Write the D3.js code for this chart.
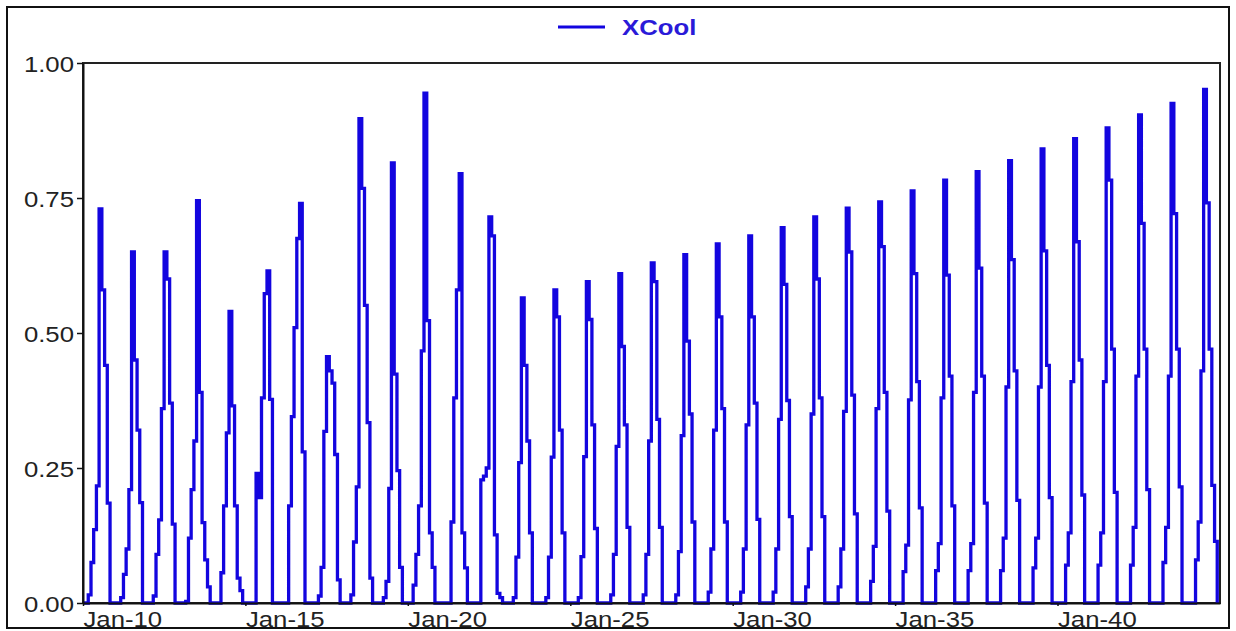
<!DOCTYPE html>
<html>
<head>
<meta charset="utf-8">
<script src="https://cdn.jsdelivr.net/npm/d3@7"></script>
<style>
  body { margin: 0; background: #fff; }
  svg text { font-family: "Liberation Sans", Arial, sans-serif; }
</style>
</head>
<body>
<div id="chart"></div>
<script>
(function () {

    var seriesName = "XCool";
    var startYear = 2010;
    // monthly values, one row per year (Jan..Dec)
    var xcool = [
        0, 0, 0.015, 0.075, 0.136, 0.217, 0.73, 0.58, 0.44, 0.185, 0, 0,        // 2010
        0, 0, 0.01, 0.053, 0.10, 0.21, 0.65, 0.45, 0.32, 0.186, 0, 0,           // 2011
        0, 0, 0.013, 0.09, 0.154, 0.36, 0.65, 0.60, 0.37, 0.146, 0, 0,          // 2012
        0, 0, 0.003, 0.12, 0.21, 0.30, 0.745, 0.39, 0.149, 0.08, 0.03, 0,       // 2013
        0, 0, 0, 0.056, 0.18, 0.315, 0.54, 0.365, 0.18, 0.046, 0.023, 0,        // 2014
        0, 0, 0, 0, 0.24, 0.195, 0.38, 0.573, 0.615, 0.377, 0, 0,               // 2015
        0, 0, 0, 0, 0.18, 0.345, 0.51, 0.675, 0.74, 0.28, 0, 0,                 // 2016
        0, 0, 0, 0.013, 0.066, 0.318, 0.456, 0.43, 0.407, 0.275, 0.043, 0,      // 2017
        0, 0, 0, 0.015, 0.113, 0.215, 0.897, 0.768, 0.551, 0.334, 0.046, 0,     // 2018
        0, 0, 0, 0.01, 0.04, 0.212, 0.815, 0.424, 0.245, 0.066, 0, 0,           // 2019
        0, 0, 0.033, 0.09, 0.18, 0.467, 0.944, 0.523, 0.13, 0.066, 0, 0,        // 2020
        0, 0, 0, 0, 0.15, 0.38, 0.58, 0.795, 0.13, 0.065, 0, 0,                 // 2021
        0, 0, 0, 0.228, 0.235, 0.25, 0.715, 0.68, 0.126, 0.018, 0.01, 0,        // 2022
        0, 0, 0, 0.01, 0.085, 0.26, 0.565, 0.44, 0.30, 0.13, 0, 0,              // 2023
        0, 0, 0, 0.01, 0.085, 0.27, 0.58, 0.53, 0.32, 0.13, 0, 0,               // 2024
        0, 0, 0, 0.01, 0.086, 0.271, 0.595, 0.525, 0.33, 0.138, 0, 0,           // 2025
        0, 0, 0, 0.015, 0.09, 0.29, 0.61, 0.475, 0.33, 0.14, 0, 0,              // 2026
        0, 0, 0, 0.015, 0.09, 0.30, 0.63, 0.595, 0.34, 0.14, 0, 0,              // 2027
        0, 0, 0, 0.015, 0.095, 0.31, 0.645, 0.485, 0.35, 0.15, 0, 0,            // 2028
        0, 0, 0, 0.02, 0.10, 0.32, 0.665, 0.53, 0.36, 0.15, 0, 0,               // 2029
        0, 0, 0, 0.02, 0.10, 0.33, 0.68, 0.53, 0.37, 0.155, 0, 0,               // 2030
        0, 0, 0, 0.02, 0.10, 0.34, 0.695, 0.59, 0.375, 0.16, 0, 0,              // 2031
        0, 0, 0, 0.03, 0.10, 0.35, 0.715, 0.60, 0.38, 0.16, 0, 0,               // 2032
        0, 0, 0, 0.03, 0.10, 0.355, 0.731, 0.65, 0.385, 0.165, 0, 0,            // 2033
        0, 0, 0, 0.04, 0.105, 0.36, 0.743, 0.66, 0.39, 0.17, 0, 0,              // 2034
        0, 0, 0, 0.058, 0.107, 0.376, 0.763, 0.61, 0.41, 0.176, 0, 0,           // 2035
        0, 0, 0, 0.06, 0.11, 0.38, 0.783, 0.607, 0.42, 0.18, 0, 0,              // 2036
        0, 0, 0, 0.06, 0.11, 0.39, 0.799, 0.62, 0.42, 0.185, 0, 0,              // 2037
        0, 0, 0, 0.06, 0.12, 0.40, 0.819, 0.636, 0.43, 0.19, 0, 0,              // 2038
        0, 0, 0, 0.065, 0.12, 0.40, 0.841, 0.652, 0.44, 0.195, 0, 0,            // 2039
        0, 0, 0, 0.07, 0.13, 0.41, 0.86, 0.669, 0.45, 0.20, 0, 0,               // 2040
        0, 0, 0, 0.07, 0.13, 0.41, 0.88, 0.783, 0.47, 0.205, 0, 0,              // 2041
        0, 0, 0, 0.07, 0.14, 0.42, 0.904, 0.703, 0.47, 0.21, 0, 0,              // 2042
        0, 0, 0, 0.075, 0.14, 0.42, 0.925, 0.721, 0.47, 0.215, 0, 0,            // 2043
        0, 0, 0, 0.08, 0.15, 0.43, 0.951, 0.741, 0.47, 0.218, 0.114, 0          // 2044
    ];
    var xTickYears = [2010, 2015, 2020, 2025, 2030, 2035, 2040];
    var yTicks = [0, 0.25, 0.5, 0.75, 1];

    var width = 1236, height = 631;
    var left = 83, right = 1220, top = 63, bottom = 603;
    var lineColor = "#1305df";
    var stretch = "scale(1.17,1)";

    var data = xcool.map(function (v, i) {
        return { date: new Date(startYear, i, 1), value: v };
    });

    var x = d3.scaleTime()
        .domain([new Date(startYear, 0, 1), new Date(startYear, xcool.length, 1)])
        .range([left, right]);
    var y = d3.scaleLinear().domain([0, 1]).range([bottom, top]);

    var svg = d3.select("#chart").append("svg")
        .attr("width", width).attr("height", height);

    // outer frame
    svg.append("rect")
        .attr("x", 7).attr("y", 7).attr("width", 1222).attr("height", 621)
        .attr("fill", "none").attr("stroke", "#111").attr("stroke-width", 2);

    // legend
    svg.append("line")
        .attr("x1", 558).attr("x2", 605).attr("y1", 27).attr("y2", 27)
        .attr("stroke", lineColor).attr("stroke-width", 3);
    svg.append("text")
        .attr("transform", "translate(622,35) " + stretch)
        .attr("font-size", 22).attr("font-weight", "bold")
        .attr("fill", "#2a1ad8")
        .text(seriesName);

    // plot frame
    svg.append("rect")
        .attr("x", left).attr("y", top).attr("width", right - left).attr("height", bottom - top)
        .attr("fill", "none").attr("stroke", "#222").attr("stroke-width", 2);

    // series, each month held flat until the next one
    var line = d3.line()
        .x(function (d) { return x(d.date) })
        .y(function (d) { return y(d.value) })
        .curve(d3.curveStepAfter);

    svg.append("path")
        .datum(data)
        .attr("fill", "none")
        .attr("stroke", lineColor)
        .attr("stroke-width", 3.3)
        .attr("d", line);

    // y axis
    var yAxis = svg.append("g")
        .attr("transform", "translate(" + left + ",0)")
        .call(d3.axisLeft(y).tickValues(yTicks).tickFormat(d3.format(".2f")).tickSize(6).tickSizeOuter(0));
    yAxis.select(".domain").attr("stroke", "#111").attr("stroke-width", 2);
    yAxis.selectAll(".tick line").attr("stroke", "#111").attr("stroke-width", 1.5);
    yAxis.selectAll(".tick text")
        .attr("x", null).attr("dy", null)
        .attr("transform", "translate(-9,8) " + stretch)
        .attr("font-size", 22).attr("fill", "#222")
        .attr("text-anchor", "end");

    // x axis
    var xAxis = svg.append("g")
        .attr("transform", "translate(0," + bottom + ")")
        .call(d3.axisBottom(x)
            .tickValues(xTickYears.map(function (yr) { return new Date(yr, 0, 1) }))
            .tickFormat(d3.timeFormat("%b-%y"))
            .tickSize(3).tickSizeOuter(0));
    xAxis.select(".domain").attr("stroke", "#111").attr("stroke-width", 2);
    xAxis.selectAll(".tick line").attr("stroke", "#111").attr("stroke-width", 1.5);
    xAxis.selectAll(".tick text")
        .attr("y", null).attr("dy", null)
        .attr("transform", "translate(0,24) " + stretch)
        .attr("font-size", 22).attr("fill", "#222")
        .attr("text-anchor", "start");
})();
</script>
</body>
</html>
